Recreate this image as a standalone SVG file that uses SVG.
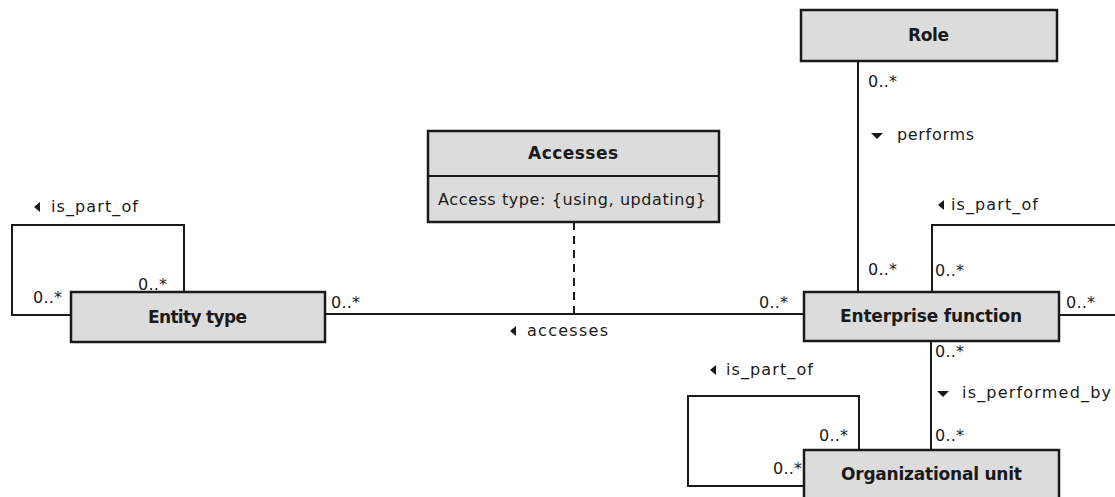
<svg xmlns="http://www.w3.org/2000/svg" width="1115" height="497" viewBox="0 0 1115 497">
  <style>
    .box { fill: #dcdcdc; stroke: #1a1a1a; stroke-width: 2.5; }
    .title { font-family: "DejaVu Sans", Verdana, sans-serif; font-size: 17px; font-weight: bold; fill: #1a1a1a; }
    .attr { font-family: "DejaVu Sans", Verdana, sans-serif; font-size: 16px; fill: #1a1a1a; }
    .lbl { font-family: "DejaVu Sans", Verdana, sans-serif; font-size: 16px; fill: #1a1a1a; }
    .line { fill: none; stroke: #1a1a1a; stroke-width: 2; }
    .dash { fill: none; stroke: #1a1a1a; stroke-width: 2; stroke-dasharray: 8 6; }
    .tri { fill: #1a1a1a; }
  </style>

  <!-- associations -->
  <g id="connectors">
    <!-- Entity type self reference -->
    <polyline class="line" points="71,315 12,315 12,225 184,225 184,292"/>
    <!-- accesses -->
    <line class="line" x1="325" y1="314" x2="804" y2="314"/>
    <line class="dash" x1="574" y1="222" x2="574" y2="314"/>
    <!-- performs -->
    <line class="line" x1="858" y1="61" x2="858" y2="292"/>
    <!-- Enterprise function self reference -->
    <polyline class="line" points="932,292 932,225 1115,225"/>
    <line class="line" x1="1059" y1="315" x2="1115" y2="315"/>
    <!-- is_performed_by -->
    <line class="line" x1="931" y1="341" x2="931" y2="450"/>
    <!-- Organizational unit self reference -->
    <polyline class="line" points="859,450 859,396 688,396 688,486 806,486"/>

    <!-- labels -->
    <polygon class="tri" points="34,207 40,202 40,212"/>
    <text class="lbl" x="51" y="212" textLength="87">is_part_of</text>
    <text class="lbl" x="33" y="303" textLength="29">0..*</text>
    <text class="lbl" x="138" y="290" textLength="29">0..*</text>
    <text class="lbl" x="331" y="308" textLength="29">0..*</text>
    <text class="lbl" x="759" y="308" textLength="29">0..*</text>
    <polygon class="tri" points="510,331 516,326 516,336"/>
    <text class="lbl" x="527" y="336" textLength="81">accesses</text>

    <text class="lbl" x="868" y="87" textLength="29">0..*</text>
    <polygon class="tri" points="871,133 883,133 877,139"/>
    <text class="lbl" x="897" y="140" textLength="77">performs</text>
    <text class="lbl" x="868" y="275" textLength="29">0..*</text>

    <polygon class="tri" points="938,205 944,200 944,210"/>
    <text class="lbl" x="951" y="210" textLength="87">is_part_of</text>
    <text class="lbl" x="935" y="276" textLength="29">0..*</text>
    <text class="lbl" x="1066" y="308" textLength="29">0..*</text>

    <text class="lbl" x="935" y="357" textLength="29">0..*</text>
    <polygon class="tri" points="937,391 949,391 943,397"/>
    <text class="lbl" x="962" y="398" textLength="149">is_performed_by</text>
    <text class="lbl" x="935" y="441" textLength="29">0..*</text>

    <polygon class="tri" points="710,370 716,365 716,375"/>
    <text class="lbl" x="726" y="375" textLength="87">is_part_of</text>
    <text class="lbl" x="819" y="441" textLength="29">0..*</text>
    <text class="lbl" x="773" y="474" textLength="29">0..*</text>
  </g>

  <g id="role">
    <rect class="box" x="801" y="10" width="256" height="51"/>
    <text class="title" x="908" y="41" textLength="41">Role</text>
  </g>

  <g id="accesses">
    <rect class="box" x="428" y="131" width="291" height="91"/>
    <line class="line" x1="428" y1="176" x2="719" y2="176" stroke-width="2.5"/>
    <text class="title" x="528" y="159" textLength="90">Accesses</text>
    <text class="attr" x="438" y="205" textLength="268">Access type: {using, updating}</text>
  </g>

  <g id="entity-type">
    <rect class="box" x="71" y="292" width="254" height="50"/>
    <text class="title" x="148" y="323" textLength="99">Entity type</text>
  </g>

  <g id="enterprise-function">
    <rect class="box" x="804" y="292" width="255" height="49"/>
    <text class="title" x="840" y="322" textLength="182">Enterprise function</text>
  </g>

  <g id="organizational-unit">
    <rect class="box" x="804" y="450" width="255" height="60"/>
    <text class="title" x="841" y="480" textLength="181">Organizational unit</text>
  </g>
</svg>
